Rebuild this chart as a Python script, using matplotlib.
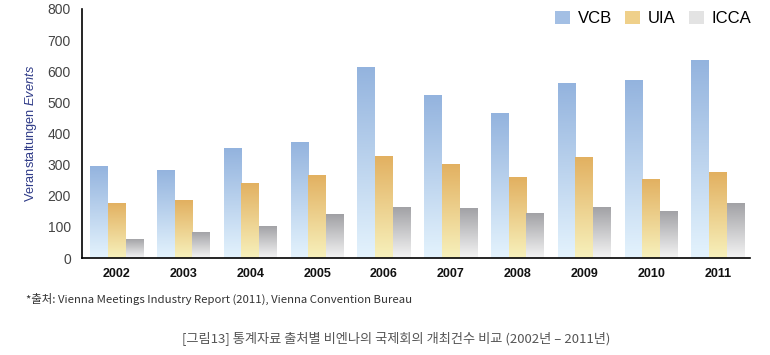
import numpy as np
import matplotlib
matplotlib.use('Agg')
import matplotlib.pyplot as plt
from matplotlib.colors import LinearSegmentedColormap
from matplotlib.patches import Patch

plt.rcParams['font.family'] = ['Liberation Sans', 'Noto Sans CJK KR', 'DejaVu Sans']
plt.rcParams['mathtext.fontset'] = 'custom'
plt.rcParams['mathtext.it'] = 'Liberation Sans:italic'
plt.rcParams['mathtext.rm'] = 'Liberation Sans'

# Data
years = ['2002', '2003', '2004', '2005', '2006', '2007', '2008', '2009', '2010', '2011']
vcb = [296, 283, 353, 373, 614, 524, 466, 562, 572, 637]
uia = [177, 186, 241, 267, 328, 302, 260, 325, 254, 276]
icca = [61, 84, 103, 141, 164, 161, 145, 164, 151, 177]
series_names = ['VCB', 'UIA', 'ICCA']

# top colour, bottom colour, legend colour
styles = [('#93b3de', '#e4f3fd', '#a3bfe4'),
          ('#e2b060', '#f7f1bc', '#efd08a'),
          ('#a0a0a4', '#f4f4f4', '#e3e3e3')]

fig = plt.figure(figsize=(7.7, 3.55), dpi=100)
ax = fig.add_axes([0.1065, 0.273, 0.8675, 0.702])

x = np.arange(len(years))
w = 0.265
for i, vals in enumerate([vcb, uia, icca]):
    top, bottom, _ = styles[i]
    cmap = LinearSegmentedColormap.from_list('g%d' % i, [bottom, top])
    bars = ax.bar(x + (i - 1) * w, vals, width=w, color='none', edgecolor='none')
    for b in bars:
        x0, y0 = b.get_x(), b.get_y()
        x1, y1 = x0 + b.get_width(), y0 + b.get_height()
        grad = np.linspace(0, 1, 256).reshape(-1, 1)
        im = ax.imshow(grad, cmap=cmap, origin='lower', aspect='auto',
                       extent=[x0, x1, y0, y1], zorder=2)
        im.set_clip_path(b)

ax.set_xlim(-0.52, 9.48)
ax.set_ylim(0, 800)
ax.set_yticks(range(0, 801, 100))
ax.set_xticks(x)
ax.set_xticklabels(years, fontweight='bold', fontsize=9, color='#111111')
ax.tick_params(axis='y', length=0, labelsize=10, labelcolor='#444444', pad=8)
ax.tick_params(axis='x', length=0, pad=7)
for s in ['top', 'right']:
    ax.spines[s].set_visible(False)
ax.spines['left'].set_linewidth(1.2)
ax.spines['bottom'].set_linewidth(1.2)

ax.text(-0.076, 0.5, 'Veranstaltungen $\\it{Events}$', transform=ax.transAxes,
        rotation=90, ha='center', va='center', fontsize=9.2, color='#2e3a87')

handles = [Patch(facecolor=s[2], edgecolor='none') for s in styles]
ax.legend(handles, series_names, loc='upper right', ncol=3, frameon=False,
          fontsize=12, handlelength=0.9, handleheight=0.9, handletextpad=0.45,
          columnspacing=0.8, bbox_to_anchor=(1.012, 1.02), borderaxespad=0)

fig.text(0.034, 0.157, '*출처: Vienna Meetings Industry Report (2011), Vienna Convention Bureau',
         fontsize=8.2, color='#333333', va='center',
         family=['Noto Sans CJK KR', 'DejaVu Sans'])
fig.text(0.515, 0.048, '[그림13] 통계자료 출처별 비엔나의 국제회의 개최건수 비교 (2002년 – 2011년)',
         fontsize=9.5, color='#555555', ha='center', va='center',
         family=['Noto Sans CJK KR', 'DejaVu Sans'])

fig.savefig('out.png', dpi=100)
